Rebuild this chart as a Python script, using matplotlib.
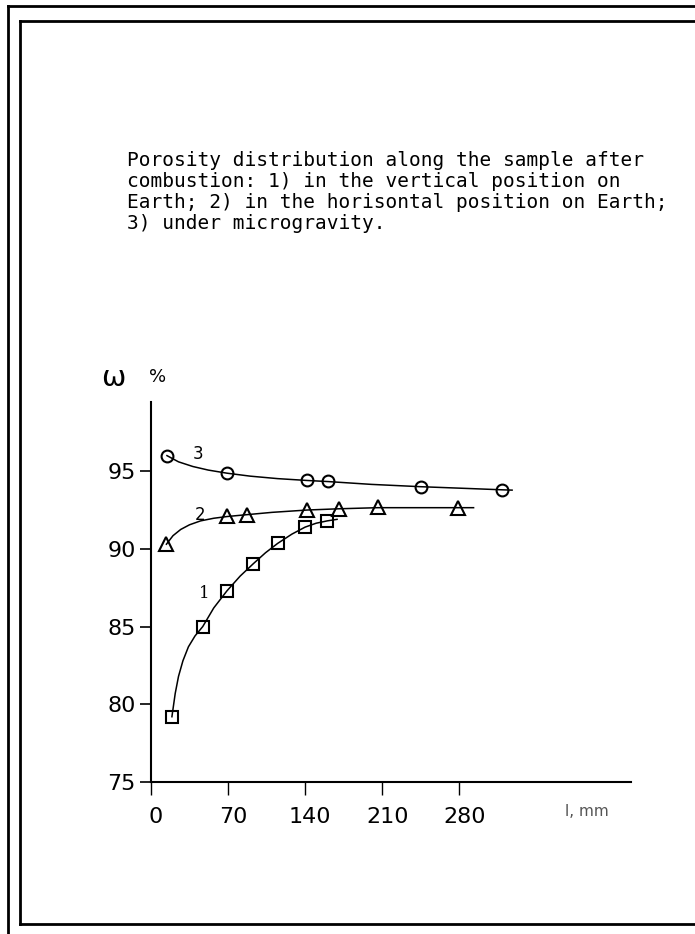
import numpy as np
import matplotlib
matplotlib.use("Agg")
import matplotlib.pyplot as plt
from matplotlib.lines import Line2D
import matplotlib.transforms as mtransforms

# measured points (l in mm, porosity in %)
x1 = [19, 47, 69, 93, 115, 140, 160]
y1 = [79.2, 85.0, 87.3, 89.05, 90.35, 91.4, 91.8]
x2 = [14, 69, 87, 142, 171, 206, 279]
y2 = [90.3, 92.1, 92.2, 92.5, 92.55, 92.7, 92.6]
x3 = [14.5, 69, 142, 161, 245, 319]
y3 = [96.0, 94.9, 94.4, 94.35, 94.0, 93.8]

# smooth curves
c1x = [19, 22, 25, 29, 34, 40, 47, 57, 69, 81, 93, 104, 115, 128, 140, 150, 160, 169]
c1y = [79.2, 80.7, 81.8, 82.8, 83.7, 84.4, 85.0, 86.2, 87.3, 88.25, 89.05, 89.75, 90.35, 90.95, 91.4, 91.65, 91.8, 91.9]
c2x = [14, 20, 27, 35, 45, 57, 69, 87, 110, 142, 171, 206, 250, 293]
c2y = [90.3, 90.85, 91.25, 91.55, 91.8, 91.97, 92.08, 92.2, 92.35, 92.5, 92.58, 92.65, 92.65, 92.65]
c3x = [14.5, 25, 38, 52, 69, 90, 115, 142, 161, 200, 245, 290, 319, 328]
c3y = [96.0, 95.6, 95.3, 95.07, 94.87, 94.68, 94.52, 94.4, 94.33, 94.15, 94.0, 93.88, 93.8, 93.78]

xticks = [0, 70, 140, 210, 280]
yticks = [75, 80, 85, 90, 95]

title = ("Porosity distribution along the sample after\n"
         "combustion: 1) in the vertical position on\n"
         "Earth; 2) in the horisontal position on Earth;\n"
         "3) under microgravity.")

fig = plt.figure(figsize=(6.95, 9.34), dpi=100)
W, H = 695.0, 934.0

ax = fig.add_axes([151 / W, 1 - 782 / H, (631 - 151) / W, (782 - 402) / H])
ax.set_xlim(0, 436)
ax.set_ylim(75, 99.45)

ax.plot(c1x, c1y, color="black", lw=1.1)
ax.plot(c2x, c2y, color="black", lw=1.1)
ax.plot(c3x, c3y, color="black", lw=1.1)
ax.plot(x1, y1, "s", ms=8.3, mfc="none", mec="black", mew=1.5, clip_on=False)
ax.plot(x2, y2, "^", ms=9.5, mfc="none", mec="black", mew=1.5, clip_on=False)
ax.plot(x3, y3, "o", ms=8.5, mfc="none", mec="black", mew=1.5, clip_on=False)

ax.text(43, 96.1, "3", fontsize=12, ha="center", va="center")
ax.text(45, 92.2, "2", fontsize=12, ha="center", va="center")
ax.text(48, 87.1, "1", fontsize=12, ha="center", va="center", family="DejaVu Serif")

for s in ["top", "right"]:
    ax.spines[s].set_visible(False)
for s in ["left", "bottom"]:
    ax.spines[s].set_linewidth(1.5)

ax.set_xticks(xticks)
ax.set_yticks(yticks)
ax.tick_params(axis="x", direction="out", length=9, width=1, pad=9, labelsize=16)
ax.tick_params(axis="y", direction="out", length=8, width=1.2, pad=3, labelsize=16)
offset = mtransforms.ScaledTranslation(5 / 100, 0, fig.dpi_scale_trans)
for lbl in ax.get_xticklabels():
    lbl.set_transform(lbl.get_transform() + offset)

fig.text(113 / W, 1 - 378 / H, "ω", fontsize=21, ha="center", va="center")
fig.text(158 / W, 1 - 377 / H, "%", fontsize=13, ha="center", va="center")
fig.text(587 / W, 1 - 812 / H, "l, mm", fontsize=11, ha="center", va="center", color="#555555")

fig.text(127 / W, 1 - 151 / H, title, fontsize=14, ha="left", va="top",
         family="DejaVu Sans Mono", linespacing=1.13)

# scanned page frame
fig.add_artist(Line2D([8 / W, 1], [1 - 6 / H, 1 - 6 / H], color="black", lw=2))
fig.add_artist(Line2D([8 / W, 8 / W], [0, 1 - 6 / H], color="black", lw=2))
fig.add_artist(Line2D([20 / W, 1], [1 - 21 / H, 1 - 21 / H], color="black", lw=2))
fig.add_artist(Line2D([20 / W, 20 / W], [1 - 924 / H, 1 - 21 / H], color="black", lw=2))
fig.add_artist(Line2D([20 / W, 1], [1 - 924 / H, 1 - 924 / H], color="black", lw=2))

fig.savefig("out.png", dpi=100)
